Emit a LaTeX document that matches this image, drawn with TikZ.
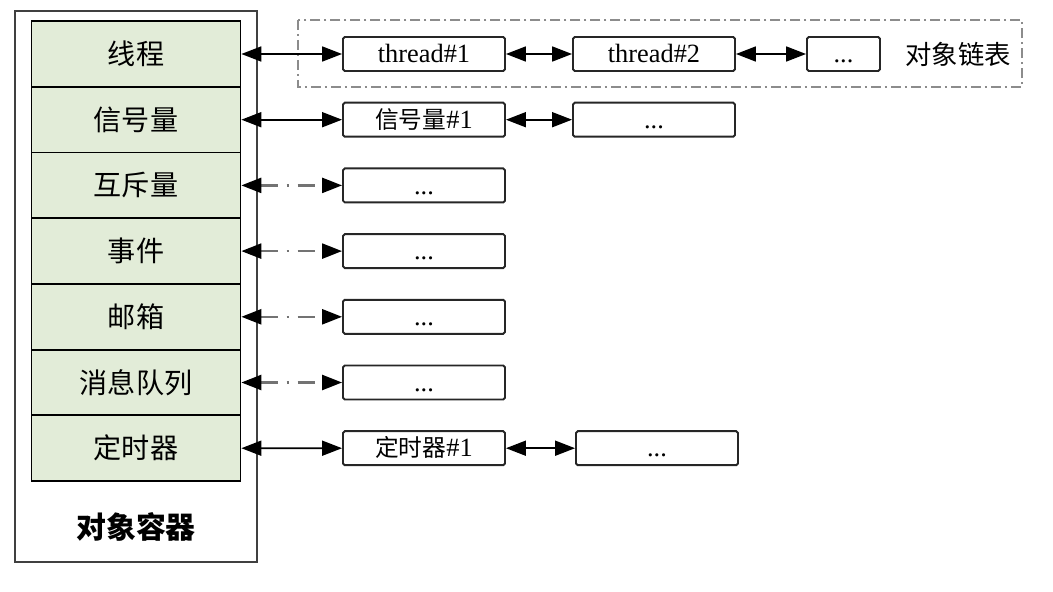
\documentclass[tikz,border=0pt]{standalone}
\usepackage{fontspec}
\setmainfont{Liberation Serif}
\newfontfamily\cjk{Noto Sans CJK SC}
\newcommand{\zh}[1]{{\cjk\fontsize{13.5}{16}\selectfont #1}}
\usetikzlibrary{arrows.meta}

\begin{document}
\begin{tikzpicture}[x = 0.02cm, y = -0.02cm,
    container/.style = {draw = black!75, line width = 1.2pt, minimum width = 4.84cm, minimum height = 11.02cm},
    cell/.style = {draw, fill = {rgb,255:red,226;green,236;blue,216}, line width = 1pt, minimum width = 4.18cm, minimum height = 1.314cm, font = \cjk\fontsize{16}{19}\selectfont},
    obj/.style = {draw = black!85, line width = 1.1pt, rounded corners = 1pt, minimum width = 3.24cm, minimum height = 0.68cm, inner ysep = 0pt, text height = 12pt, text depth = 2pt, font = \fontsize{15}{18}\selectfont},
    link/.style = {{Triangle[length=0.4cm, width=0.3cm]}-{Triangle[length=0.4cm, width=0.3cm]}, line width = 1pt},
    dlink/.style = {{Triangle[length=0.4cm, width=0.3cm, black]}-{Triangle[length=0.4cm, width=0.3cm, black]}, line width = 1.4pt, black!55, dash pattern = on 0.34cm off 0.18cm on 0.04cm off 0.18cm},
    group/.style = {draw = black!45, line width = 1pt, dash pattern = on 0.2cm off 0.08cm on 0.04cm off 0.08cm}]
    \useasboundingbox (0, 0) rectangle (1053, 591);

    \node[container] (box) at (136, 286.5) {};
    \node[font = \cjk\bfseries\fontsize{17}{20}\selectfont] (boxname) at (136, 527) {对象容器};

    \foreach \i/\name in {1/线程, 2/信号量, 3/互斥量, 4/事件, 5/邮箱, 6/消息队列, 7/定时器}
        \node[cell] (c\i) at (136, {54 + 65.7*(\i - 1)}) {\name};

    % object list
    \draw[group] (298, 20) rectangle (1022, 87);
    \node[font = \cjk\fontsize{15}{18}\selectfont] (listname) at (958, 54) {对象链表};

    \node[obj] (o1a) at (424, 54) {thread\#1};
    \node[obj] (o1b) at (654, 54) {thread\#2};
    \node[obj, minimum width = 1.46cm] (o1c) at (843.5, 54) {...};
    \node[obj] (o2a) at (424, 119.7) {\zh{信号量}\#1};
    \node[obj] (o2b) at (654, 119.7) {...};
    \foreach \i in {3, 4, 5, 6}
        \node[obj] (o\i a) at (424, {54 + 65.7*(\i - 1)}) {...};
    \node[obj] (o7a) at (424, 448.2) {\zh{定时器}\#1};
    \node[obj] (o7b) at (657, 448.2) {...};

    \draw[link] (c1.east) -- (o1a.west);
    \draw[link] (o1a.east) -- (o1b.west);
    \draw[link] (o1b.east) -- (o1c.west);
    \draw[link] (c2.east) -- (o2a.west);
    \draw[link] (o2a.east) -- (o2b.west);
    \foreach \i in {3, 4, 5, 6}
        \draw[dlink] (c\i.east) -- (o\i a.west);
    \draw[link] (c7.east) -- (o7a.west);
    \draw[link] (o7a.east) -- (o7b.west);
\end{tikzpicture}
\end{document}
